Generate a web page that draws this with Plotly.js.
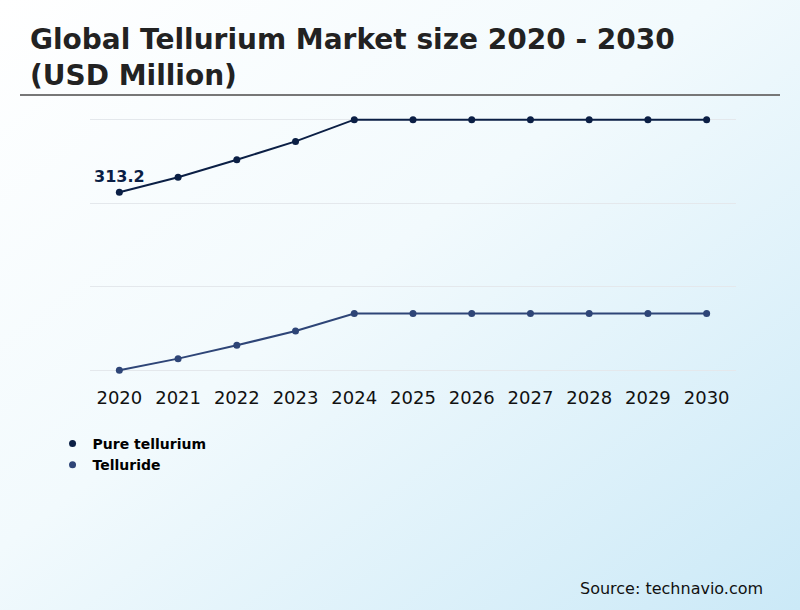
<!DOCTYPE html>
<html>
<head>
<meta charset="utf-8">
<script src="https://cdn.plot.ly/plotly-3.0.1.min.js"></script>
<style>
  html, body { margin: 0; padding: 0; }
  body {
    width: 800px; height: 610px; overflow: hidden;
    background: linear-gradient(to bottom right, #ffffff 0%, #f2fafd 45%, #cbe9f7 100%);
  }
  #chart { width: 800px; height: 610px; }
</style>
</head>
<body>
<div id="chart"></div>
<script>
// market size by year, USD million
const years = ["2020", "2021", "2022", "2023", "2024", "2025", "2026", "2027", "2028", "2029", "2030"];
const pureTellurium = [313.2, 331, 352, 374, 400, 400, 400, 400, 400, 400, 400];
const telluride = [100, 114, 130, 147, 168, 168, 168, 168, 168, 168, 168];
const seriesNames = ["Pure tellurium", "Telluride"];
const seriesColors = ["#0b1f45", "#2e4577"];

const FONT = "DejaVu Sans";

function lineTrace(y, color) {
  return {
    type: "scatter",
    x: years,
    y: y,
    mode: "lines",
    line: { color: color, width: 2 },
    showlegend: false,
    hoverinfo: "skip",
    cliponaxis: false
  };
}

// marker-only traces so the legend shows a plain dot
function dotTrace(y, color, name) {
  return {
    type: "scatter",
    x: years,
    y: y,
    name: name,
    mode: "markers",
    marker: { color: color, size: 7 },
    cliponaxis: false
  };
}

const traces = [
  lineTrace(pureTellurium, seriesColors[0]),
  lineTrace(telluride, seriesColors[1]),
  dotTrace(pureTellurium, seriesColors[0], seriesNames[0]),
  dotTrace(telluride, seriesColors[1], seriesNames[1])
];

const layout = {
  width: 800,
  height: 610,
  paper_bgcolor: "rgba(0,0,0,0)",
  plot_bgcolor: "rgba(0,0,0,0)",
  margin: { l: 90, r: 64, t: 118, b: 238 },
  font: { family: FONT, color: "#111" },
  title: {
    text: "<b>Global Tellurium Market size 2020 - 2030<br>(USD Million)</b>",
    font: { family: FONT, size: 28, color: "#222" },
    xref: "container",
    yref: "container",
    x: 30 / 800,
    xanchor: "left",
    y: 1 - 49 / 610,
    yanchor: "top"
  },
  xaxis: {
    type: "category",
    range: [-0.5, years.length - 0.5],
    showgrid: false,
    zeroline: false,
    showline: false,
    ticks: "outside",
    ticklen: 9,
    tickcolor: "rgba(0,0,0,0)",
    tickfont: { family: FONT, size: 18, color: "#111" }
  },
  yaxis: {
    range: [98, 402],
    dtick: 100,
    tick0: 0,
    showticklabels: false,
    showgrid: true,
    gridcolor: "#e4e8ec",
    gridwidth: 1,
    zeroline: false,
    showline: false,
    ticks: ""
  },
  showlegend: true,
  legend: {
    orientation: "v",
    x: -0.058,
    xanchor: "left",
    y: -0.22,
    yanchor: "top",
    bgcolor: "rgba(0,0,0,0)",
    itemwidth: 30,
    font: { family: FONT, size: 14, color: "#000", weight: "bold" }
  },
  shapes: [
    {
      type: "line",
      xref: "paper",
      yref: "paper",
      x0: (20 - 90) / 646,
      x1: (780 - 90) / 646,
      y0: (372 - 95) / 254,
      y1: (372 - 95) / 254,
      line: { color: "#777", width: 2 }
    }
  ],
  annotations: [
    {
      // value label on the first point of the top series (category index 0)
      text: "<b>" + pureTellurium[0].toFixed(1) + "</b>",
      x: 0,
      y: pureTellurium[0],
      xref: "x",
      yref: "y",
      yshift: 16,
      showarrow: false,
      xanchor: "center",
      yanchor: "middle",
      font: { family: FONT, size: 16, color: seriesColors[0] }
    },
    {
      text: "Source: technavio.com",
      xref: "paper",
      yref: "paper",
      x: (765 - 90) / 646,
      xanchor: "right",
      y: (372 - 588) / 254,
      yanchor: "middle",
      showarrow: false,
      font: { family: FONT, size: 16, color: "#111" }
    }
  ]
};

Plotly.newPlot("chart", traces, layout, {
  displayModeBar: false,
  staticPlot: true
});
</script>
</body>
</html>
